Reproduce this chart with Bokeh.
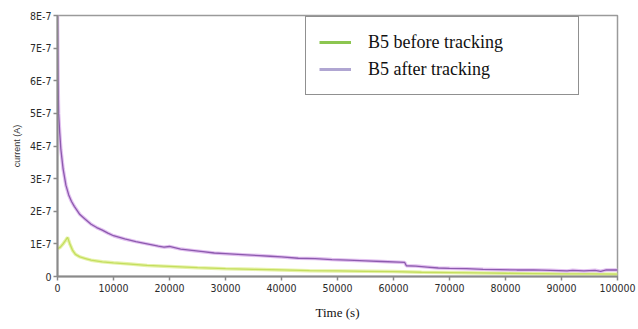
from bokeh.plotting import figure
from bokeh.models import (Range1d, FixedTicker, CustomJSTickFormatter, Legend, LegendItem,
                          ColumnDataSource)
from bokeh.embed import file_html
from bokeh.resources import INLINE

# ---- data (time in s, current in A) ----
after_t = [0, 100, 200, 400, 600, 1000, 1500, 2000, 2500, 3000, 4000, 5000, 6000, 7000,
           8000, 9000, 10000, 12000, 14000, 16000, 18000, 19000, 20000, 22000, 24000,
           26000, 28000, 30000, 33000, 36000, 38000, 40000, 43000, 46000, 49000, 52000,
           55000, 58000, 61000, 62000, 62300, 64000, 66000, 68000, 70000, 73000, 76000,
           79000, 82000, 85000, 88000, 91000, 92000, 94000, 96000, 97000, 98000, 100000]
after_i = [8.0e-7, 6.0e-7, 5.0e-7, 4.4e-7, 3.9e-7, 3.3e-7, 2.8e-7, 2.5e-7, 2.3e-7, 2.15e-7,
           1.9e-7, 1.75e-7, 1.6e-7, 1.5e-7, 1.42e-7, 1.33e-7, 1.25e-7, 1.15e-7, 1.07e-7,
           1.0e-7, 0.93e-7, 0.9e-7, 0.92e-7, 0.84e-7, 0.8e-7, 0.76e-7, 0.72e-7, 0.70e-7,
           0.67e-7, 0.64e-7, 0.62e-7, 0.60e-7, 0.56e-7, 0.55e-7, 0.52e-7, 0.50e-7, 0.48e-7,
           0.46e-7, 0.44e-7, 0.43e-7, 0.33e-7, 0.32e-7, 0.29e-7, 0.26e-7, 0.25e-7, 0.24e-7,
           0.22e-7, 0.21e-7, 0.20e-7, 0.20e-7, 0.19e-7, 0.17e-7, 0.19e-7, 0.17e-7, 0.19e-7,
           0.16e-7, 0.20e-7, 0.20e-7]

before_t = [0, 500, 1000, 1500, 1800, 2200, 2700, 3200, 4000, 5000, 6000, 8000, 10000,
            13000, 16000, 20000, 25000, 30000, 35000, 40000, 45000, 50000, 55000, 60000,
            65000, 70000, 75000, 80000, 85000, 90000, 95000, 100000]
before_i = [0.85e-7, 0.9e-7, 1.0e-7, 1.12e-7, 1.2e-7, 1.0e-7, 0.8e-7, 0.68e-7, 0.6e-7,
            0.55e-7, 0.5e-7, 0.45e-7, 0.42e-7, 0.38e-7, 0.34e-7, 0.31e-7, 0.27e-7, 0.24e-7,
            0.22e-7, 0.2e-7, 0.18e-7, 0.17e-7, 0.16e-7, 0.15e-7, 0.13e-7, 0.12e-7, 0.11e-7,
            0.10e-7, 0.09e-7, 0.08e-7, 0.08e-7, 0.07e-7]

x_ticks = [0, 10000, 20000, 30000, 40000, 50000, 60000, 70000, 80000, 90000, 100000]
y_ticks = [0, 1e-7, 2e-7, 3e-7, 4e-7, 5e-7, 6e-7, 7e-7, 8e-7]
series_labels = ["B5 before tracking", "B5 after tracking"]

p = figure(width=638, height=329, output_backend="svg", toolbar_location=None,
           x_range=Range1d(0, 100000), y_range=Range1d(0, 8e-7),
           min_border_left=57, min_border_right=21, min_border_top=15, min_border_bottom=53)
p.background_fill_color = "white"
p.border_fill_color = "white"
p.outline_line_color = "#9a9a9a"
p.outline_line_width = 1.5
p.xgrid.visible = False
p.ygrid.visible = False

narrow = "'Liberation Sans Narrow', 'DejaVu Sans Condensed', sans-serif"
for ax in (p.xaxis[0], p.yaxis[0]):
    ax.axis_line_color = "#8a8a8a"
    ax.axis_line_width = 2
    ax.major_tick_line_color = "#8a8a8a"
    ax.major_tick_line_width = 1.5
    ax.major_tick_out = 4
    ax.major_tick_in = 0
    ax.minor_tick_line_color = None
    ax.major_label_text_font = narrow
    ax.major_label_text_font_size = "10.5px"
    ax.major_label_text_color = "#2a2a2a"

p.xaxis.ticker = FixedTicker(ticks=x_ticks)
p.yaxis.ticker = FixedTicker(ticks=y_ticks)
p.xaxis.formatter = CustomJSTickFormatter(code="return Math.round(tick).toString();")
p.yaxis.formatter = CustomJSTickFormatter(
    code="if (Math.abs(tick) < 1e-12) return '0'; return Math.round(tick*1e7) + 'E-7';")
p.xaxis.major_label_standoff = 3
p.yaxis.major_label_standoff = 2

p.xaxis.axis_label = "Time (s)"
p.xaxis.axis_label_text_font = "Liberation Serif"
p.xaxis.axis_label_text_font_style = "normal"
p.xaxis.axis_label_text_font_size = "13px"
p.xaxis.axis_label_text_color = "#111111"
p.xaxis.axis_label_standoff = 10

p.yaxis.axis_label = "current (A)"
p.yaxis.axis_label_text_font = "'Liberation Sans', sans-serif"
p.yaxis.axis_label_text_font_style = "normal"
p.yaxis.axis_label_text_font_size = "9px"
p.yaxis.axis_label_text_color = "#333333"
p.yaxis.axis_label_standoff = 5

src_b = ColumnDataSource(dict(t=before_t, i=before_i))
src_a = ColumnDataSource(dict(t=after_t, i=after_i))

p.line("t", "i", source=src_b, line_color="#e6f2a8", line_width=3.5)
p.line("t", "i", source=src_b, line_color="#c4de5e", line_width=1.3)
p.line("t", "i", source=src_a, line_color="#e2c0f0", line_width=3.5)
p.line("t", "i", source=src_a, line_color="#8c5aae", line_width=1.3)

# legend glyphs (single point -> draws nothing in the plot itself)
leg_b = p.line(x=before_t[:1], y=before_i[:1], line_color="#8cc650", line_width=3)
leg_a = p.line(x=after_t[:1], y=after_i[:1], line_color="#b0a6d2", line_width=3)

legend = Legend(items=[LegendItem(label=series_labels[0], renderers=[leg_b]),
                       LegendItem(label=series_labels[1], renderers=[leg_a])],
                location=(248, 181))
legend.label_text_font = "Liberation Serif"
legend.label_text_font_size = "18px"
legend.label_text_color = "#111111"
legend.glyph_width = 32
legend.glyph_height = 24
legend.label_height = 24
legend.label_standoff = 17
legend.label_width = 197
legend.spacing = 3
legend.padding = 13
legend.margin = 0
legend.border_line_color = "#222222"
legend.border_line_width = 1.2
legend.background_fill_color = "white"
legend.background_fill_alpha = 1.0
p.add_layout(legend, "center")

open("out.html", "w").write(file_html(p, INLINE))
